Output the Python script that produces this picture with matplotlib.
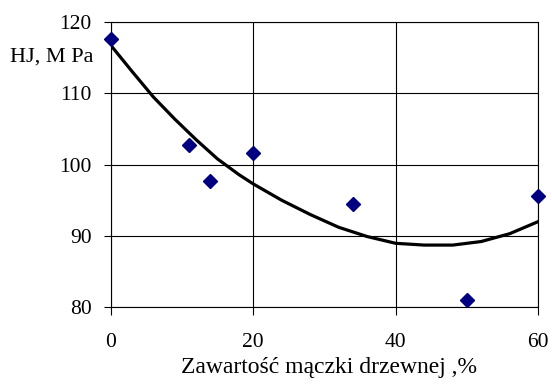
import matplotlib
matplotlib.use('Agg')
import matplotlib.pyplot as plt

# punkty pomiarowe
zawartosc = [0, 11, 14, 20, 34, 50, 60]
hj = [117.7, 102.8, 97.7, 101.7, 94.5, 81.0, 95.6]

# linia trendu
trend_x = [0, 3, 6, 9, 12, 15, 18, 20, 24, 28, 32, 36, 40, 44, 48, 52, 56, 60]
trend_y = [116.8, 113.1, 109.5, 106.4, 103.5, 100.8, 98.6, 97.3, 95.0, 93.0,
           91.2, 89.9, 88.95, 88.7, 88.7, 89.2, 90.3, 92.0]

plt.rcParams['font.family'] = ['Liberation Serif', 'DejaVu Serif']

fig = plt.figure(figsize=(5.52, 3.85), dpi=100)
ax = fig.add_axes([0.2005, 0.2026, 0.7745, 0.7394])

ax.plot(trend_x, trend_y, color='black', linewidth=2.3, zorder=3)
ax.plot(zawartosc, hj, linestyle='none', marker='D', markersize=6.8,
        color='#000080', zorder=4, clip_on=False)

ax.set_xlim(0, 60)
ax.set_ylim(80, 120)
ax.set_xticks([0, 20, 40, 60])
ax.set_yticks([80, 90, 100, 110, 120])
ax.grid(True, color='black', linewidth=0.8)
for s in ax.spines.values():
    s.set_linewidth(0.8)
ax.tick_params(axis='both', direction='out', length=5.4, width=0.8,
               labelsize=15.5, colors='black')
ax.tick_params(axis='x', pad=13)
ax.tick_params(axis='y', pad=8.3)

fig.text(329 / 552, 1 - 368 / 385, 'Zawartość mączki drzewnej ,%',
         fontsize=17, ha='center', va='center')
fig.text(94 / 552, 1 - 57 / 385, 'HJ, M Pa', fontsize=16,
         ha='right', va='center')

fig.savefig('out.png', dpi=100)
